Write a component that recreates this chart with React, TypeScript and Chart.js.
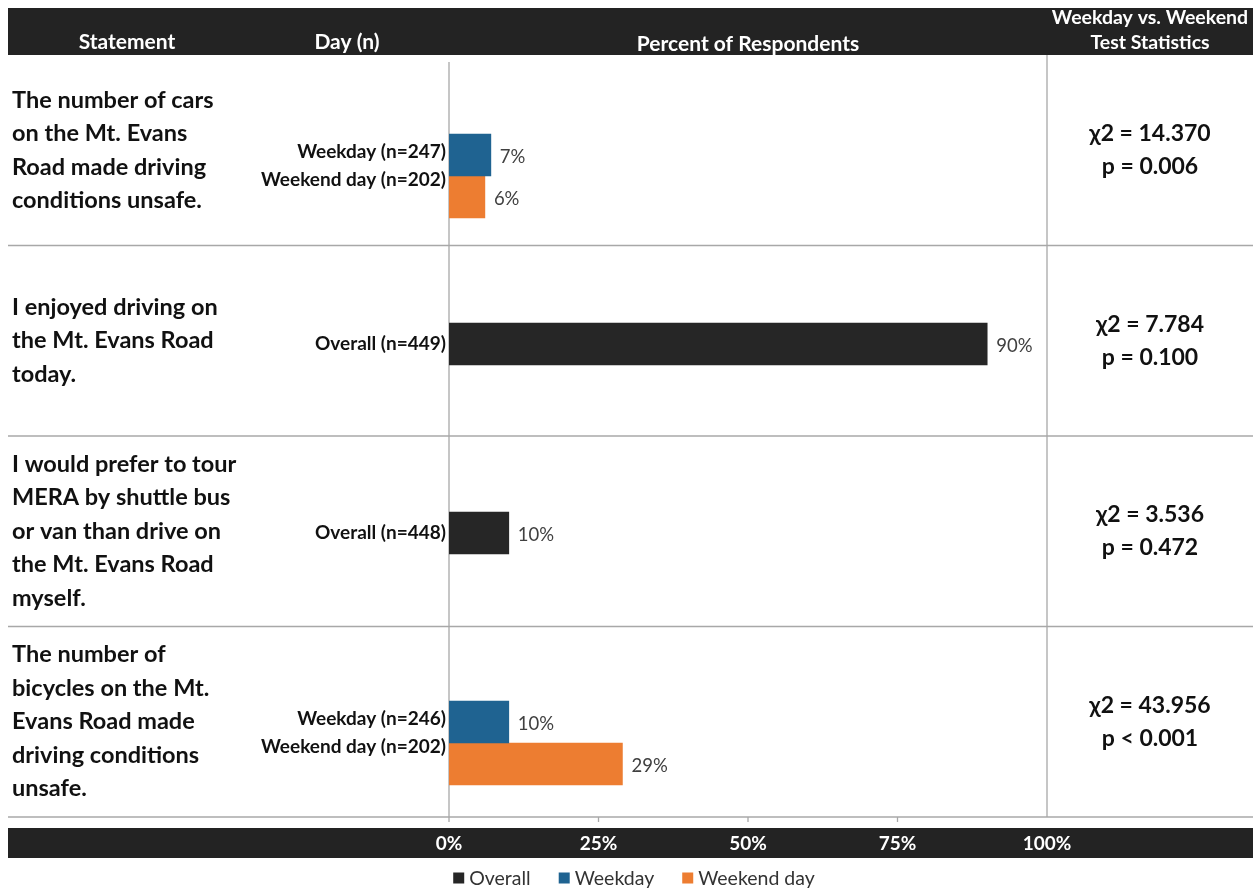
import React, { useEffect, useRef } from "react";
import { Chart, registerables } from "chart.js";

Chart.register(...registerables);

// ---------- data ----------
const categories = ["Cars unsafe", "Enjoyed driving", "Prefer shuttle", "Bicycles unsafe"];
const statementLines = [
  ["The number of cars", "on the Mt. Evans", "Road made driving", "conditions unsafe."],
  ["I enjoyed driving on", "the Mt. Evans Road", "today."],
  ["I would prefer to tour", "MERA by shuttle bus", "or van than drive on", "the Mt. Evans Road", "myself."],
  ["The number of", "bicycles on the Mt.", "Evans Road made", "driving conditions", "unsafe."],
];
const seriesNames = ["Overall", "Weekday", "Weekend day"];
const overallValues = [null, 90, 10, null];
const weekdayValues = [7, null, null, 10];
const weekendValues = [6, null, null, 29];
const overallN = [null, 449, 448, null];
const weekdayN = [247, null, null, 246];
const weekendN = [202, null, null, 202];
const chiSquare = ["14.370", "7.784", "3.536", "43.956"];
const pValues = ["p = 0.006", "p = 0.100", "p = 0.472", "p < 0.001"];
const xTicks = [0, 25, 50, 75, 100];
const headerTitles = ["Statement", "Day (n)", "Percent of Respondents"];
const statsHeader = ["Weekday vs. Weekend", "Test Statistics"];

// ---------- style ----------
const W = 1253;
const H = 888;
const FONT = "Lato, 'Open Sans', 'DejaVu Sans', sans-serif";
const DARK = "#232323";
const GRID = "#a8a8a8";
const COLORS = ["#262626", "#1f6391", "#ed7d31"];
const TABLE_TOP = 55;
const TABLE_BOTTOM = 817;
const STATS_DIVIDER_VALUE = 100;

const tablePlugin = {
  id: "tableLayout",
  beforeDatasetsDraw(chart: any) {
    const ctx = chart.ctx as CanvasRenderingContext2D;
    const xs = chart.scales.x;
    const band = (TABLE_BOTTOM - TABLE_TOP) / categories.length;
    const x0 = xs.getPixelForValue(0);
    const x100 = xs.getPixelForValue(STATS_DIVIDER_VALUE);
    ctx.save();

    // header bar
    ctx.fillStyle = DARK;
    ctx.fillRect(8, 8, W - 8, TABLE_TOP - 8);
    ctx.fillStyle = "#ffffff";
    ctx.font = `bold 21px ${FONT}`;
    ctx.textAlign = "center";
    ctx.textBaseline = "middle";
    ctx.fillText(headerTitles[0], 127, 42);
    ctx.fillText(headerTitles[1], 347, 42);
    ctx.fillText(headerTitles[2], (x0 + x100) / 2, 44);
    const statsX = (x100 + W) / 2;
    ctx.font = `bold 19.5px ${FONT}`;
    ctx.fillText(statsHeader[0], statsX, 18);
    ctx.fillText(statsHeader[1], statsX, 43);

    // grid / separators
    ctx.strokeStyle = GRID;
    ctx.lineWidth = 1.3;
    for (let i = 1; i <= categories.length; i++) {
      const yy = TABLE_TOP + band * i;
      ctx.beginPath();
      ctx.moveTo(8, yy);
      ctx.lineTo(W, yy);
      ctx.stroke();
    }
    ctx.beginPath();
    ctx.moveTo(x0, 62);
    ctx.lineTo(x0, TABLE_BOTTOM + 5);
    ctx.stroke();
    ctx.beginPath();
    ctx.moveTo(x100, TABLE_TOP);
    ctx.lineTo(x100, TABLE_BOTTOM);
    ctx.stroke();
    for (const t of xTicks) {
      if (t === 0 || t === 100) continue;
      const tx = xs.getPixelForValue(t);
      ctx.beginPath();
      ctx.moveTo(tx, TABLE_BOTTOM);
      ctx.lineTo(tx, TABLE_BOTTOM + 5);
      ctx.stroke();
    }

    // statements and stats
    for (let i = 0; i < categories.length; i++) {
      const cy = TABLE_TOP + band * (i + 0.5);
      const lines = statementLines[i];
      ctx.fillStyle = "#111111";
      ctx.font = `bold 23.5px ${FONT}`;
      ctx.textAlign = "left";
      ctx.textBaseline = "middle";
      lines.forEach((ln, k) => {
        ctx.fillText(ln, 12, cy + (k - (lines.length - 1) / 2) * 33.5);
      });
      ctx.font = `bold 23px ${FONT}`;
      ctx.textAlign = "center";
      ctx.fillText(`\u03c72 = ${chiSquare[i]}`, statsX, cy - 16.5);
      ctx.fillText(pValues[i], statsX, cy + 16.5);
    }
    ctx.restore();
  },
  afterDatasetsDraw(chart: any) {
    const ctx = chart.ctx as CanvasRenderingContext2D;
    const xs = chart.scales.x;
    const x0 = xs.getPixelForValue(0);
    ctx.save();

    const nArrays = [overallN, weekdayN, weekendN];
    const labelShift = [0, -3, -17];
    chart.data.datasets.forEach((ds: any, di: number) => {
      const meta = chart.getDatasetMeta(di);
      meta.data.forEach((el: any, idx: number) => {
        const v = ds.data[idx];
        if (v === null || v === undefined) return;
        // value label
        ctx.fillStyle = "#404040";
        ctx.font = `18.5px ${FONT}`;
        ctx.textAlign = "left";
        ctx.textBaseline = "middle";
        ctx.fillText(`${v}%`, el.x + 9, el.y + 2);
        // day label
        ctx.fillStyle = "#111111";
        ctx.font = `bold 19px ${FONT}`;
        ctx.textAlign = "right";
        ctx.fillText(`${seriesNames[di]} (n=${nArrays[di][idx]})`, x0 - 3, el.y + labelShift[di]);
      });
    });

    // footer bar with tick labels
    ctx.fillStyle = DARK;
    ctx.fillRect(8, 828, W - 8, 30);
    ctx.fillStyle = "#ffffff";
    ctx.font = `bold 19px ${FONT}`;
    ctx.textAlign = "center";
    ctx.textBaseline = "middle";
    for (const t of xTicks) {
      ctx.fillText(`${t}%`, xs.getPixelForValue(t), 844);
    }

    // legend
    ctx.font = `19.5px ${FONT}`;
    const box = 11;
    const gapBoxText = 5;
    const gapItems = 28;
    const widths = seriesNames.map((n) => box + gapBoxText + ctx.measureText(n).width);
    const total = widths.reduce((a, b) => a + b, 0) + gapItems * (seriesNames.length - 1);
    let lx = 634 - total / 2;
    const ly = 878;
    seriesNames.forEach((n, i) => {
      ctx.fillStyle = COLORS[i];
      ctx.fillRect(lx, ly - box / 2, box, box);
      ctx.fillStyle = "#333333";
      ctx.textAlign = "left";
      ctx.textBaseline = "middle";
      ctx.fillText(n, lx + box + gapBoxText, ly + 1);
      lx += widths[i] + gapItems;
    });
    ctx.restore();
  },
};

export default function App() {
  const ref = useRef<HTMLCanvasElement | null>(null);
  useEffect(() => {
    document.body.style.margin = "0";
    document.documentElement.style.overflow = "hidden";
    const canvas = ref.current;
    if (!canvas) return;
    const chart = new Chart(canvas, {
      type: "bar",
      data: {
        labels: categories,
        datasets: [
          { label: seriesNames[0], data: overallValues, backgroundColor: COLORS[0], stack: "primary", barThickness: 42 },
          { label: seriesNames[1], data: weekdayValues, backgroundColor: COLORS[1], stack: "primary", barThickness: 42 },
          { label: seriesNames[2], data: weekendValues, backgroundColor: COLORS[2], stack: "secondary", barThickness: 42 },
        ],
      } as any,
      options: {
        indexAxis: "y",
        responsive: false,
        animation: false,
        events: [],
        layout: { padding: { left: 449, right: 206, top: 81.5, bottom: 50.5 } },
        scales: {
          x: { type: "linear", min: 0, max: 100, display: false, stacked: true },
          y: { type: "category", display: false, stacked: true, offset: true },
        },
        plugins: { legend: { display: false }, tooltip: { enabled: false } },
      } as any,
      plugins: [tablePlugin],
    });
    return () => chart.destroy();
  }, []);
  return <canvas ref={ref} width={W} height={H} style={{ display: "block" }} />;
}
